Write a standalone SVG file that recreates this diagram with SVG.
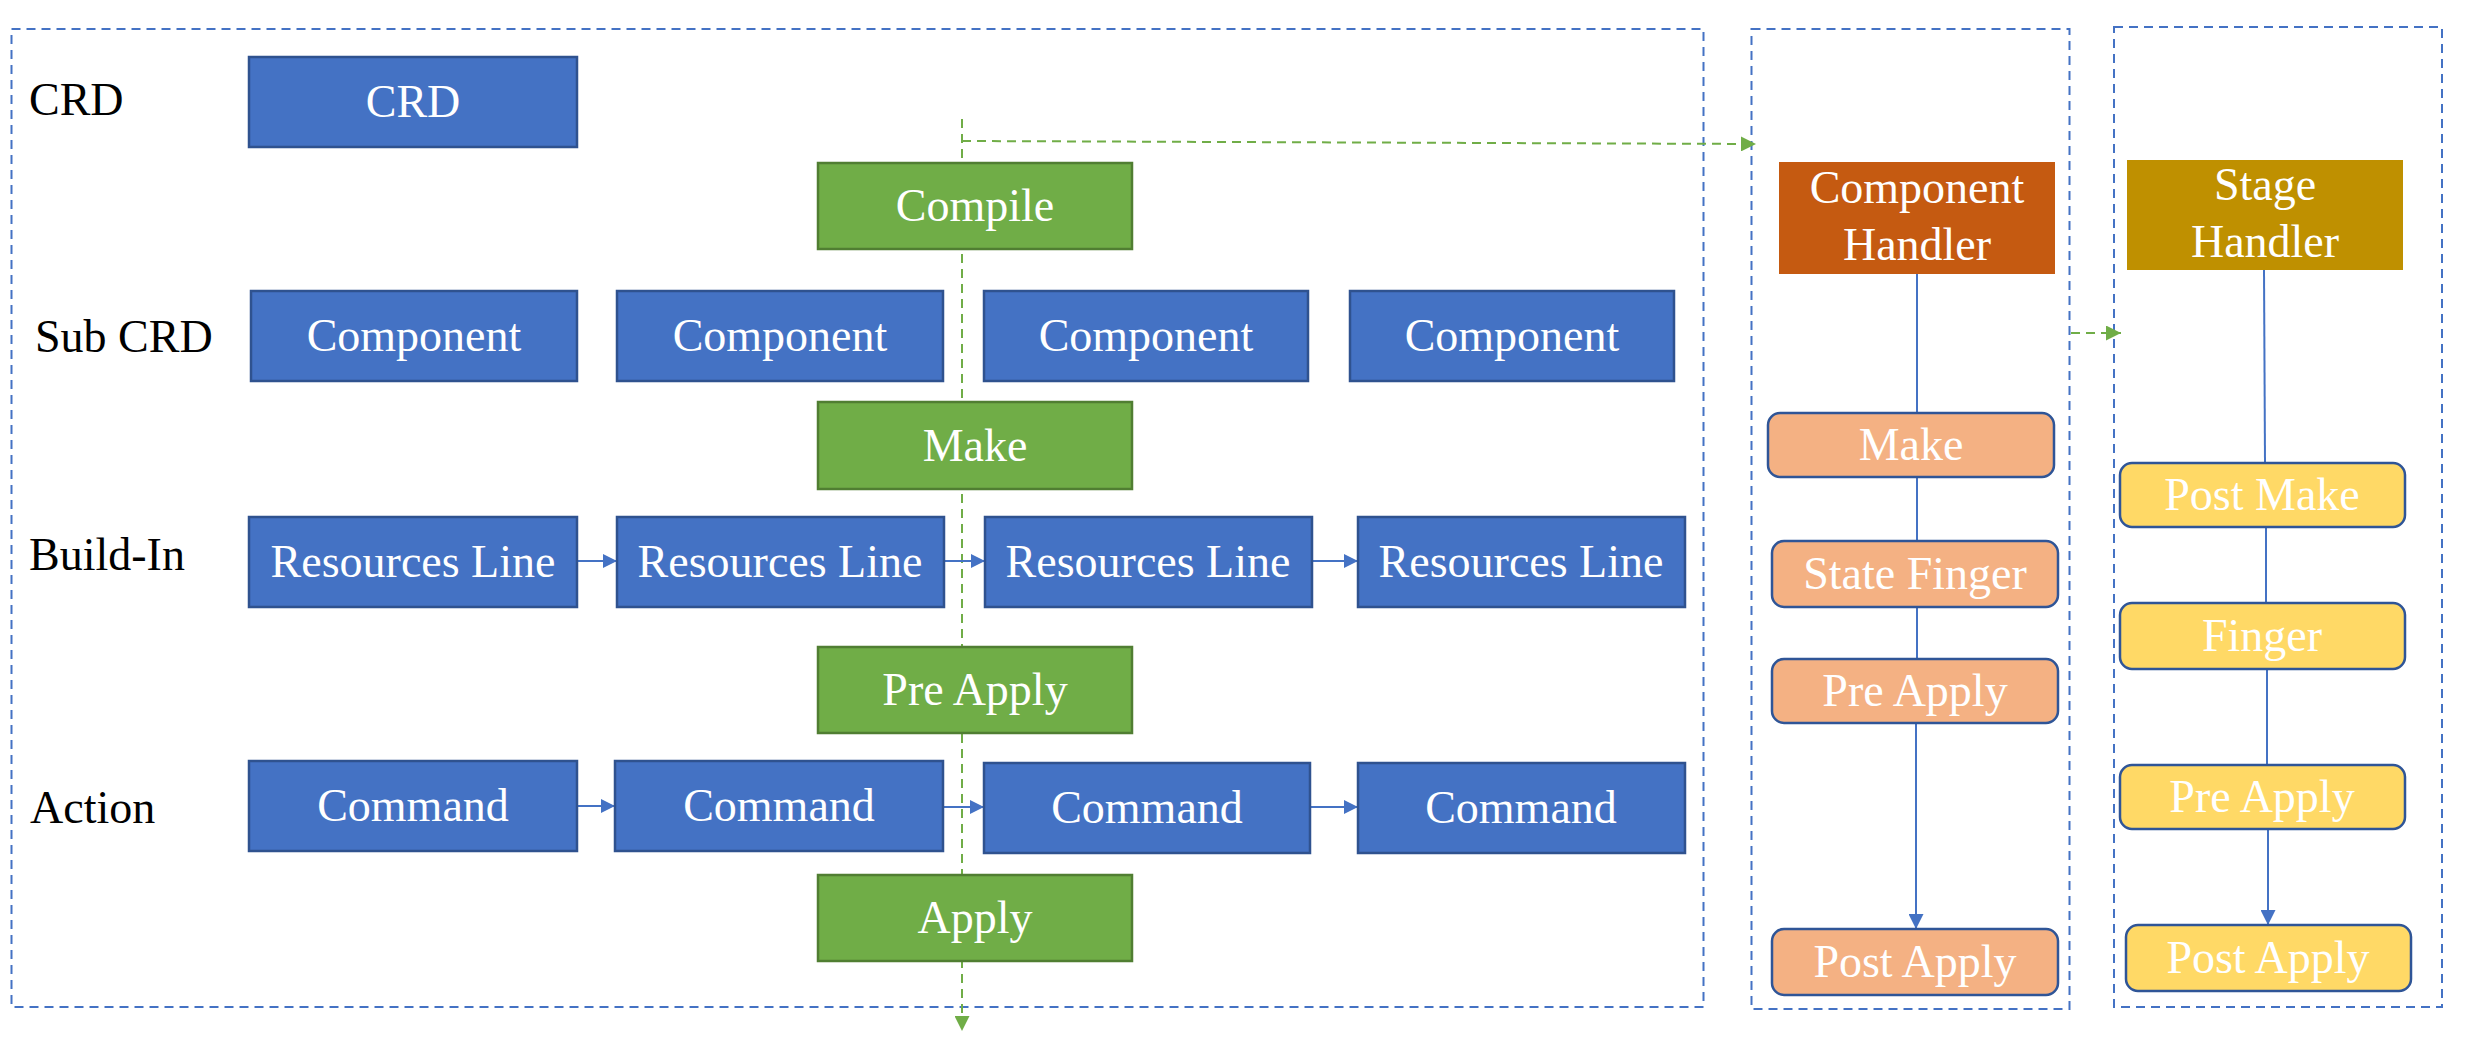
<svg xmlns="http://www.w3.org/2000/svg" width="2468" height="1038" viewBox="0 0 2468 1038">
<style>
text{font-family:"Liberation Serif","Times New Roman",serif;font-size:46px;}
.lbl{fill:#000;}
.t{fill:#fff;text-anchor:middle;}
.blue{fill:#4472C4;stroke:#2F528F;stroke-width:2.5;}
.green{fill:#70AD47;stroke:#507E32;stroke-width:2.5;}
.orange{fill:#F4B183;stroke:#2F5597;stroke-width:2.5;}
.yellow{fill:#FFD966;stroke:#2F5597;stroke-width:2.5;}
.cont{fill:none;stroke:#4472C4;stroke-width:2;stroke-dasharray:9 6;}
.gd{fill:none;stroke:#70AD47;stroke-width:2;stroke-dasharray:9 6;}
.bl{fill:none;stroke:#4472C4;stroke-width:2;}
</style>
<defs>
<marker id="ab" viewBox="0 0 10 10" refX="10" refY="5" markerWidth="14" markerHeight="14" markerUnits="userSpaceOnUse" orient="auto"><path d="M0,0 L10,5 L0,10 z" fill="#4472C4"/></marker>
<marker id="ab2" viewBox="0 0 10 10" refX="10" refY="5" markerWidth="15" markerHeight="15" markerUnits="userSpaceOnUse" orient="auto"><path d="M0,0 L10,5 L0,10 z" fill="#4472C4"/></marker>
<marker id="ag" viewBox="0 0 10 10" refX="10" refY="5" markerWidth="15" markerHeight="15" markerUnits="userSpaceOnUse" orient="auto"><path d="M0,0 L10,5 L0,10 z" fill="#70AD47"/></marker>
</defs>

<g id="containers">
<rect class="cont" x="11.5" y="29" width="1692" height="978"/>
<rect class="cont" x="1751.5" y="29" width="318" height="980"/>
<rect class="cont" x="2114" y="27" width="328" height="980"/>
</g>

<g id="labels">
<text class="lbl" x="29" y="115">CRD</text>
<text class="lbl" x="35" y="352">Sub CRD</text>
<text class="lbl" x="29" y="570">Build-In</text>
<text class="lbl" x="30" y="823">Action</text>
</g>

<g id="connectors">
<path class="gd" d="M962,119 L962,1031" marker-end="url(#ag)"/>
<path class="gd" d="M962,141 L1756,144" marker-end="url(#ag)"/>
<path class="gd" d="M2071,333 L2121,333" marker-end="url(#ag)"/>
<path class="bl" d="M577,561 L617,561" marker-end="url(#ab)"/>
<path class="bl" d="M944,561 L985,561" marker-end="url(#ab)"/>
<path class="bl" d="M1312,561 L1358,561" marker-end="url(#ab)"/>
<path class="bl" d="M577,806 L615,806" marker-end="url(#ab)"/>
<path class="bl" d="M943,807 L984,807" marker-end="url(#ab)"/>
<path class="bl" d="M1310,807 L1358,807" marker-end="url(#ab)"/>
<path class="bl" d="M1917,274 L1917,413"/>
<path class="bl" d="M1917,477 L1917,541"/>
<path class="bl" d="M1917,607 L1917,659"/>
<path class="bl" d="M1916,723 L1916,929" marker-end="url(#ab2)"/>
<path class="bl" d="M2264,270 L2265,463"/>
<path class="bl" d="M2266,527 L2266,603"/>
<path class="bl" d="M2267,669 L2267,765"/>
<path class="bl" d="M2268,829 L2268,925" marker-end="url(#ab2)"/>
</g>

<g id="crd"><rect class="blue" x="249" y="57" width="328" height="90"/><text class="t" x="413" y="117">CRD</text></g>
<g id="compile"><rect class="green" x="818" y="163" width="314" height="86"/><text class="t" x="975" y="221">Compile</text></g>
<g id="component1"><rect class="blue" x="251" y="291" width="326" height="90"/><text class="t" x="414" y="351">Component</text></g>
<g id="component2"><rect class="blue" x="617" y="291" width="326" height="90"/><text class="t" x="780" y="351">Component</text></g>
<g id="component3"><rect class="blue" x="984" y="291" width="324" height="90"/><text class="t" x="1146" y="351">Component</text></g>
<g id="component4"><rect class="blue" x="1350" y="291" width="324" height="90"/><text class="t" x="1512" y="351">Component</text></g>
<g id="make"><rect class="green" x="818" y="402" width="314" height="87"/><text class="t" x="975" y="461">Make</text></g>
<g id="res1"><rect class="blue" x="249" y="517" width="328" height="90"/><text class="t" x="413" y="577">Resources Line</text></g>
<g id="res2"><rect class="blue" x="617" y="517" width="327" height="90"/><text class="t" x="780" y="577">Resources Line</text></g>
<g id="res3"><rect class="blue" x="985" y="517" width="327" height="90"/><text class="t" x="1148" y="577">Resources Line</text></g>
<g id="res4"><rect class="blue" x="1358" y="517" width="327" height="90"/><text class="t" x="1521" y="577">Resources Line</text></g>
<g id="preapply"><rect class="green" x="818" y="647" width="314" height="86"/><text class="t" x="975" y="705">Pre Apply</text></g>
<g id="cmd1"><rect class="blue" x="249" y="761" width="328" height="90"/><text class="t" x="413" y="821">Command</text></g>
<g id="cmd2"><rect class="blue" x="615" y="761" width="328" height="90"/><text class="t" x="779" y="821">Command</text></g>
<g id="cmd3"><rect class="blue" x="984" y="763" width="326" height="90"/><text class="t" x="1147" y="823">Command</text></g>
<g id="cmd4"><rect class="blue" x="1358" y="763" width="327" height="90"/><text class="t" x="1521" y="823">Command</text></g>
<g id="apply"><rect class="green" x="818" y="875" width="314" height="86"/><text class="t" x="975" y="933">Apply</text></g>

<g id="component-handler"><rect x="1779" y="162" width="276" height="112" fill="#C55A11"/><text class="t" x="1917" y="203">Component</text><text class="t" x="1917" y="260">Handler</text></g>
<g id="ch-make"><rect class="orange" x="1768" y="413" width="286" height="64" rx="12"/><text class="t" x="1911" y="460">Make</text></g>
<g id="ch-statefinger"><rect class="orange" x="1772" y="541" width="286" height="66" rx="12"/><text class="t" x="1915" y="589">State Finger</text></g>
<g id="ch-preapply"><rect class="orange" x="1772" y="659" width="286" height="64" rx="12"/><text class="t" x="1915" y="706">Pre Apply</text></g>
<g id="ch-postapply"><rect class="orange" x="1772" y="929" width="286" height="66" rx="12"/><text class="t" x="1915" y="977">Post Apply</text></g>

<g id="stage-handler"><rect x="2127" y="160" width="276" height="110" fill="#BF9000"/><text class="t" x="2265" y="200">Stage</text><text class="t" x="2265" y="257">Handler</text></g>
<g id="sh-postmake"><rect class="yellow" x="2120" y="463" width="285" height="64" rx="12"/><text class="t" x="2262" y="510">Post Make</text></g>
<g id="sh-finger"><rect class="yellow" x="2120" y="603" width="285" height="66" rx="12"/><text class="t" x="2262" y="651">Finger</text></g>
<g id="sh-preapply"><rect class="yellow" x="2120" y="765" width="285" height="64" rx="12"/><text class="t" x="2262" y="812">Pre Apply</text></g>
<g id="sh-postapply"><rect class="yellow" x="2126" y="925" width="285" height="66" rx="12"/><text class="t" x="2268" y="973">Post Apply</text></g>
</svg>
